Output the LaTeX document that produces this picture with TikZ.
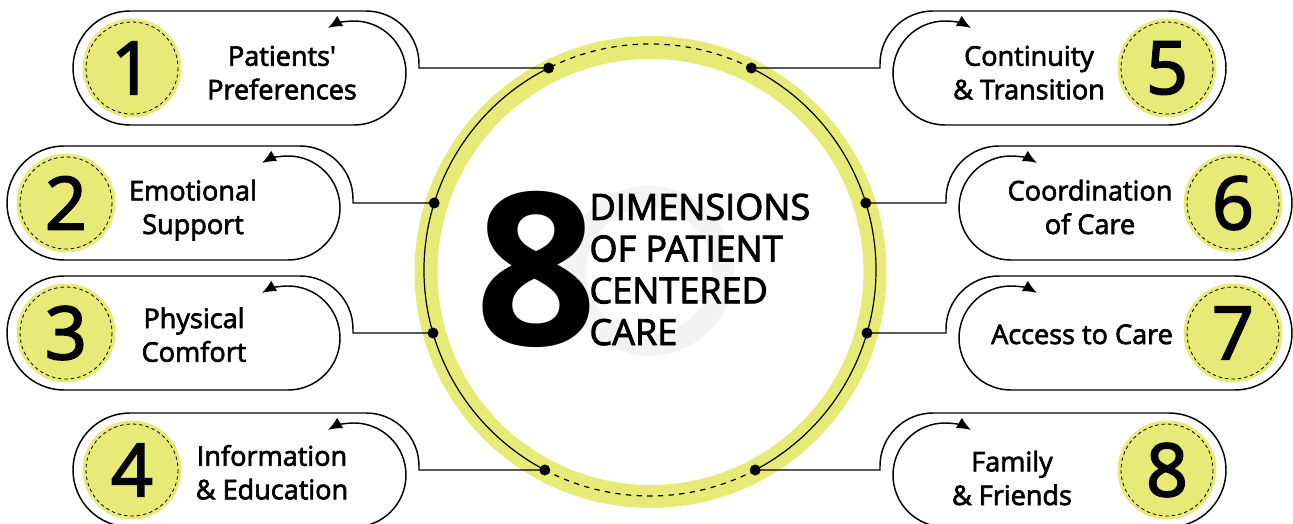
\documentclass[tikz,border=0pt]{standalone}
\usepackage{fontspec}
\setmainfont{Open Sans}[Ligatures=TeXOff]
\newfontfamily\semifont{Open Sans}[Ligatures=TeXOff,RawFeature={embolden=2.5}]
\usetikzlibrary{arrows.meta}

\definecolor{dimyellow}{RGB}{232,234,120}
\definecolor{ringgray}{RGB}{243,243,243}

\tikzset{every picture/.style={line width=0.75pt}}
\tikzset{
  boxline/.style={line width=1.1pt,-{Latex[length=10.5pt,width=9pt]}},
  thinring/.style={line width=0.9pt},
  ringdash/.style={line width=0.9pt,dash pattern=on 4pt off 4pt},
  numdisc/.style={circle,fill=dimyellow,minimum size=74.25pt,inner sep=0pt,
    font=\semifont\fontsize{55}{55}\selectfont},
  numring/.style={line width=0.6pt,dash pattern=on 2.6pt off 2.2pt},
  itemtext/.style={align=center,inner sep=0pt,anchor=base,
    font=\semifont\fontsize{20.3}{25.2}\selectfont},
}

\begin{document}
\begin{tikzpicture}[x=0.75pt,y=0.75pt,yscale=-1,xscale=1]
\useasboundingbox (0,0) rectangle (1293,524);

%Shape: Ring [id:outer yellow]
\draw [dimyellow,line width=17.25pt] (650.5,272) circle (224.5);
%Shape: Ring [id:grey back]
\draw [ringgray,line width=16.5pt] (649,271) circle (74);

% dots on the thin circle
\coordinate (d1) at (548.6,68);
\coordinate (d2) at (434.2,203);
\coordinate (d3) at (433,333);
\coordinate (d4) at (544.8,470);
\coordinate (d5) at (751.4,68);
\coordinate (d6) at (865.8,203);
\coordinate (d7) at (867,333);
\coordinate (d8) at (755.2,470);

%Shape: Arc [id:thin circle]
\draw [thinring] (d1) arc[start angle=243.34,end angle=117.75,radius=226];
\draw [ringdash] (d4) arc[start angle=117.75,end angle=62.25,radius=226];
\draw [thinring] (d8) arc[start angle=62.25,end angle=-63.34,radius=226];
\draw [ringdash] (d5) arc[start angle=-63.34,end angle=-116.66,radius=226];

%Shape: Box 1 [left]
\draw [boxline] (d1) -- (419,68) -- (419,64) arc[start angle=0,end angle=-90,radius=53] -- (130,11) arc[start angle=-90,end angle=-270,radius=57] -- (354,125) arc[start angle=90,end angle=-120,radius=52];
%Shape: Box 2 [left]
\draw [boxline] (d2) -- (353,203) -- (353,199) arc[start angle=0,end angle=-90,radius=53] -- (64,146) arc[start angle=-90,end angle=-270,radius=57] -- (288,260) arc[start angle=90,end angle=-120,radius=52];
%Shape: Box 3 [left]
\draw [boxline] (d3) -- (353,333) -- (353,329) arc[start angle=0,end angle=-90,radius=53] -- (64,276) arc[start angle=-90,end angle=-270,radius=57] -- (288,390) arc[start angle=90,end angle=-120,radius=52];
%Shape: Box 4 [left]
\draw [boxline] (d4) -- (419,470) -- (419,466) arc[start angle=0,end angle=-90,radius=53] -- (130,413) arc[start angle=-90,end angle=-270,radius=57] -- (354,527) arc[start angle=90,end angle=-120,radius=52];
%Shape: Box 5 [right]
\draw [boxline] (d5) -- (880,68) -- (880,64) arc[start angle=180,end angle=270,radius=53] -- (1169,11) arc[start angle=-90,end angle=90,radius=57] -- (945,125) arc[start angle=90,end angle=300,radius=52];
%Shape: Box 6 [right]
\draw [boxline] (d6) -- (946,203) -- (946,199) arc[start angle=180,end angle=270,radius=53] -- (1235,146) arc[start angle=-90,end angle=90,radius=57] -- (1011,260) arc[start angle=90,end angle=300,radius=52];
%Shape: Box 7 [right]
\draw [boxline] (d7) -- (946,333) -- (946,329) arc[start angle=180,end angle=270,radius=53] -- (1235,276) arc[start angle=-90,end angle=90,radius=57] -- (1011,390) arc[start angle=90,end angle=300,radius=52];
%Shape: Box 8 [right]
\draw [boxline] (d8) -- (880,470) -- (880,466) arc[start angle=180,end angle=270,radius=53] -- (1169,413) arc[start angle=-90,end angle=90,radius=57] -- (945,527) arc[start angle=90,end angle=300,radius=52];

%Shape: Circle [id:dots]
\fill (d1) circle (5.5);
\fill (d2) circle (5.5);
\fill (d3) circle (5.5);
\fill (d4) circle (5.5);
\fill (d5) circle (5.5);
\fill (d6) circle (5.5);
\fill (d7) circle (5.5);
\fill (d8) circle (5.5);

% Number Nodes
\node [numdisc] (n1) at (132,68) {1};
\node [numdisc] (n2) at (66,203) {2};
\node [numdisc] (n3) at (66,333) {3};
\node [numdisc] (n4) at (132,470) {4};
\node [numdisc] (n5) at (1167,68) {5};
\node [numdisc] (n6) at (1233,203) {6};
\node [numdisc] (n7) at (1233,333) {7};
\node [numdisc] (n8) at (1167,470) {8};
\draw [numring] (n1) circle (46);
\draw [numring] (n2) circle (46);
\draw [numring] (n3) circle (46);
\draw [numring] (n4) circle (46);
\draw [numring] (n5) circle (46);
\draw [numring] (n6) circle (46);
\draw [numring] (n7) circle (46);
\draw [numring] (n8) circle (46);

% Text Node
\node [itemtext] (t1) at (282,99.3) {Patients'\\Preferences};
% Text Node
\node [itemtext] (t2) at (193,234) {Emotional\\Support};
% Text Node
\node [itemtext] (t3) at (194,361.7) {Physical\\Comfort};
% Text Node
\node [itemtext] (t4) at (272,499.3) {Information\\\& Education};
% Text Node
\node [itemtext] (t5) at (1029,99.3) {Continuity\\\& Transition};
% Text Node
\node [itemtext] (t6) at (1090,234) {Coordination\\of Care};
% Text Node
\node [itemtext] (t7) at (1082,344) {Access to Care};
% Text Node
\node [itemtext] (t8) at (1012,505) {Family\\\& Friends};

% Title Nodes
\node [anchor=base,inner sep=0pt,font=\bfseries\fontsize{160}{160}\selectfont] (big) at (536.5,345) {8};
\node [anchor=base west,align=left,inner sep=0pt,font=\semifont\fontsize{27}{31.3}\selectfont] (title) at (589,345) {DIMENSIONS\\OF PATIENT\\CENTERED\\CARE};

\end{tikzpicture}
\end{document}
